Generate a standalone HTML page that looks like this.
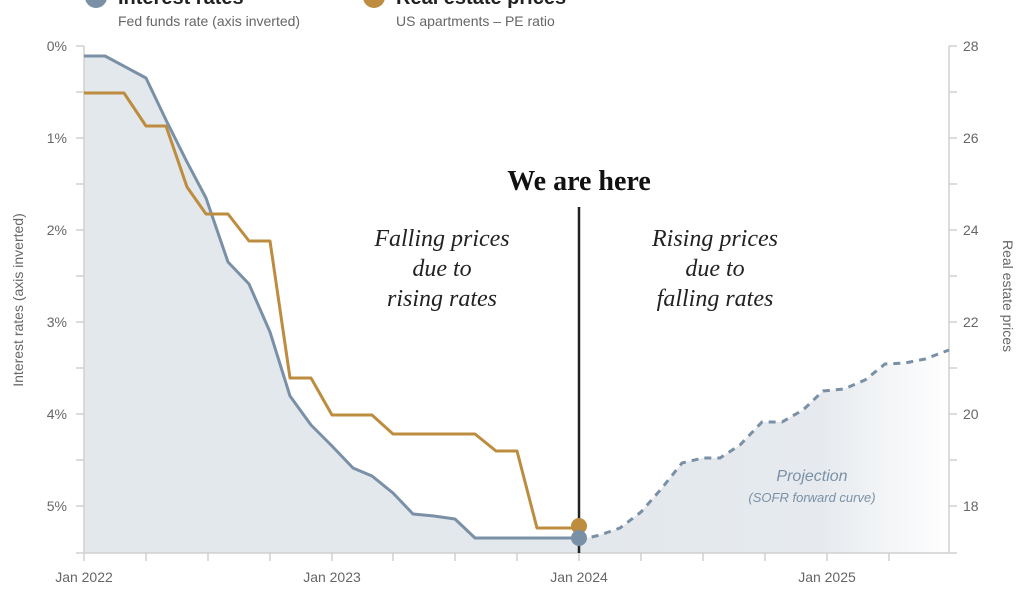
<!DOCTYPE html>
<html><head><meta charset="utf-8"><style>
html,body{margin:0;padding:0;background:#fff;}
svg{display:block;}
.t{font-family:"Liberation Sans",sans-serif;fill:#666;font-size:14px;}
.s{font-family:"Liberation Serif",serif;}
</style></head><body>
<svg width="1020" height="600" viewBox="0 0 1020 600">
<defs>
<linearGradient id="g" x1="579" y1="0" x2="949" y2="0" gradientUnits="userSpaceOnUse">
<stop offset="0" stop-color="#e3e8ed"/><stop offset="0.65" stop-color="#e6eaee"/><stop offset="1" stop-color="#ffffff"/>
</linearGradient>
</defs>
<!-- legend -->
<circle cx="96" cy="-3" r="11" fill="#7a90a6"/>
<text x="118" y="4" font-family="Liberation Sans,sans-serif" font-weight="bold" font-size="20" fill="#222">Interest rates</text>
<text x="118" y="26" class="t" font-size="15">Fed funds rate (axis inverted)</text>
<circle cx="374" cy="-3" r="11" fill="#bd8c3f"/>
<text x="396" y="4" font-family="Liberation Sans,sans-serif" font-weight="bold" font-size="20" fill="#222">Real estate prices</text>
<text x="396" y="26" class="t" font-size="15">US apartments – PE ratio</text>
<!-- fills -->
<path d="M84,56 L105,56 L146,78 L166,120 L187,162 L206,198 L228,262 L249,284 L270,332 L290,396 L311,425 L332,446 L353,468 L372,476 L393,493 L413,514 L434,516 L455,519 L475,538 L579,538 L579,553 L84,553Z" fill="#e3e8ed"/>
<path d="M579,540 L600,535 L620,528 L641,512 L662,488 L682,463 L703,458 L720,458 L740,445 L762,422 L782,422 L803,410 L823,391 L844,389 L865,380 L885,364 L905,363 L925,359 L949,350 L949,553 L579,553Z" fill="url(#g)"/>
<!-- axes -->
<g stroke="#d0d0d0" stroke-width="1.5" fill="none">
<line x1="84" y1="46" x2="84" y2="553"/>
<line x1="949" y1="46" x2="949" y2="553"/>
<line x1="76" y1="553" x2="957" y2="553"/>
<path d="M76,46H84M76,92H84M76,138H84M76,184H84M76,230H84M76,276H84M76,322H84M76,368H84M76,414H84M76,460H84M76,506H84"/>
<path d="M949,46H957M949,92H957M949,138H957M949,184H957M949,230H957M949,276H957M949,322H957M949,368H957M949,414H957M949,460H957M949,506H957"/>
<path d="M84,553V561M146,553V561M208,553V561M270,553V561M332,553V561M393,553V561M455,553V561M517,553V561M579,553V561M641,553V561M703,553V561M765,553V561M827,553V561M889,553V561"/>
</g>
<g class="t" text-anchor="end">
<text x="67" y="51">0%</text><text x="67" y="143">1%</text><text x="67" y="235">2%</text><text x="67" y="327">3%</text><text x="67" y="419">4%</text><text x="67" y="511">5%</text>
</g>
<g class="t">
<text x="963" y="51">28</text><text x="963" y="143">26</text><text x="963" y="235">24</text><text x="963" y="327">22</text><text x="963" y="419">20</text><text x="963" y="511">18</text>
</g>
<g class="t" text-anchor="middle">
<text x="84" y="582">Jan 2022</text><text x="332" y="582">Jan 2023</text><text x="579" y="582">Jan 2024</text><text x="827" y="582">Jan 2025</text>
</g>
<text class="t" transform="translate(23,300) rotate(-90)" text-anchor="middle">Interest rates (axis inverted)</text>
<text class="t" transform="translate(1003,296) rotate(90)" text-anchor="middle">Real estate prices</text>
<!-- lines -->
<line x1="579" y1="207" x2="579" y2="553" stroke="#222" stroke-width="2.5"/>
<polyline fill="none" stroke="#7a90a6" stroke-width="3" stroke-linejoin="round" points="84,56 105,56 146,78 166,120 187,162 206,198 228,262 249,284 270,332 290,396 311,425 332,446 353,468 372,476 393,493 413,514 434,516 455,519 475,538 579,538"/>
<polyline fill="none" stroke="#7a90a6" stroke-width="3" stroke-dasharray="7,6" points="579,540 600,535 620,528 641,512 662,488 682,463 703,458 720,458 740,445 762,422 782,422 803,410 823,391 844,389 865,380 885,364 905,363 925,359 949,350"/>
<polyline fill="none" stroke="#bd8c3f" stroke-width="3" stroke-linejoin="round" points="84,93 124,93 146,126 166,126 187,187 206,214 228,214 249,241 270,241 290,378 311,378 332,415 372,415 393,434 475,434 496,451 517,451 537,528 579,528"/>
<circle cx="579" cy="526" r="8" fill="#bd8c3f"/>
<circle cx="579" cy="538" r="8" fill="#7a90a6"/>
<!-- annotations -->
<text x="579" y="190" text-anchor="middle" class="s" font-weight="bold" font-size="28" fill="#111">We are here</text>
<g class="s" font-style="italic" font-size="24" fill="#222" text-anchor="middle">
<text x="442" y="246">Falling prices</text><text x="442" y="276">due to</text><text x="442" y="306">rising rates</text>
<text x="715" y="246">Rising prices</text><text x="715" y="276">due to</text><text x="715" y="306">falling rates</text>
</g>
<text x="812" y="481" text-anchor="middle" font-family="Liberation Sans,sans-serif" font-style="italic" font-size="16" fill="#7a90a6">Projection</text>
<text x="812" y="502" text-anchor="middle" font-family="Liberation Sans,sans-serif" font-style="italic" font-size="13" fill="#7a90a6">(SOFR forward curve)</text>
</svg>
</body></html>
